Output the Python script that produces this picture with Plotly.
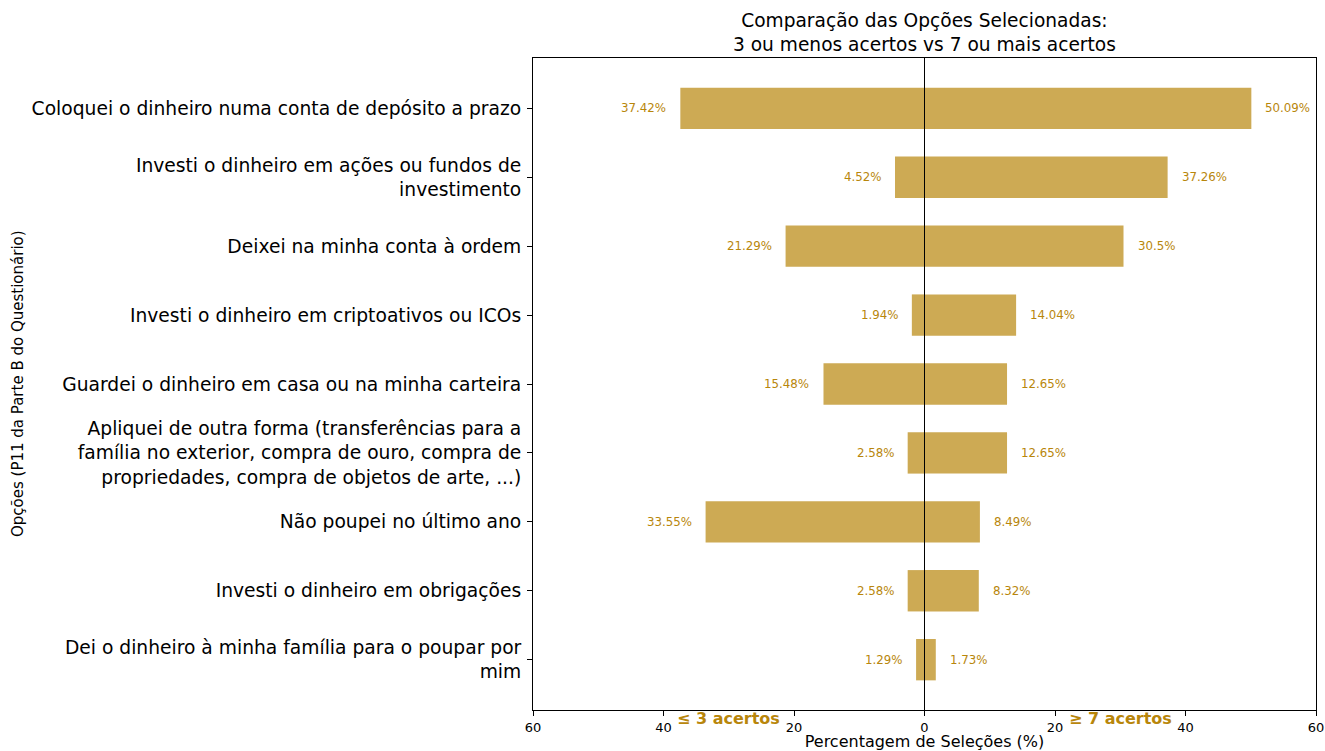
import plotly.graph_objects as go

categories = [
    "Coloquei o dinheiro numa conta de depósito a prazo",
    "Investi o dinheiro em ações ou fundos de<br>investimento",
    "Deixei na minha conta à ordem",
    "Investi o dinheiro em criptoativos ou ICOs",
    "Guardei o dinheiro em casa ou na minha carteira",
    "Apliquei de outra forma (transferências para a<br>família no exterior, compra de ouro, compra de<br>propriedades, compra de objetos de arte, ...)",
    "Não poupei no último ano",
    "Investi o dinheiro em obrigações",
    "Dei o dinheiro à minha família para o poupar por<br>mim",
]
low_scores = [37.42, 4.52, 21.29, 1.94, 15.48, 2.58, 33.55, 2.58, 1.29]
high_scores = [50.09, 37.26, 30.5, 14.04, 12.65, 12.65, 8.49, 8.32, 1.73]
low_labels = ["37.42%", "4.52%", "21.29%", "1.94%", "15.48%", "2.58%", "33.55%", "2.58%", "1.29%"]
high_labels = ["50.09%", "37.26%", "30.5%", "14.04%", "12.65%", "12.65%", "8.49%", "8.32%", "1.73%"]
x_ticks = [-60, -40, -20, 0, 20, 40, 60]
x_tick_text = ["60", "40", "20", "0", "20", "40", "60"]

BAR = "#CDAA54"
TXT = "#B8860B"
FONT = "DejaVu Sans"

ypos = list(range(len(categories)))

fig = go.Figure()
fig.add_trace(go.Bar(
    y=ypos, x=[-v for v in low_scores], orientation="h", width=0.6,
    marker=dict(color=BAR, line=dict(width=0)), showlegend=False, hoverinfo="skip",
))
fig.add_trace(go.Bar(
    y=ypos, x=high_scores, orientation="h", width=0.6,
    marker=dict(color=BAR, line=dict(width=0)), showlegend=False, hoverinfo="skip",
))

annotations = []
for i in ypos:
    annotations.append(dict(x=-low_scores[i], y=i, xref="x", yref="y", text=low_labels[i],
                            showarrow=False, xanchor="right", xshift=-12,
                            font=dict(family=FONT, size=11.8, color=TXT)))
    annotations.append(dict(x=high_scores[i], y=i, xref="x", yref="y", text=high_labels[i],
                            showarrow=False, xanchor="left", xshift=12,
                            font=dict(family=FONT, size=11.8, color=TXT)))
annotations.append(dict(x=-30, y=0, xref="x", yref="paper", text="<b>≤ 3 acertos</b>",
                        showarrow=False, xanchor="center", yanchor="middle", yshift=-8,
                        font=dict(family=FONT, size=16, color=TXT)))
annotations.append(dict(x=30, y=0, xref="x", yref="paper", text="<b>≥ 7 acertos</b>",
                        showarrow=False, xanchor="center", yanchor="middle", yshift=-8,
                        font=dict(family=FONT, size=16, color=TXT)))
# title
annotations.append(dict(x=0.5, y=1, xref="paper", yref="paper",
                        text="Comparação das Opções Selecionadas:<br>3 ou menos acertos vs 7 ou mais acertos",
                        showarrow=False, xanchor="center", yanchor="bottom", yshift=1,
                        font=dict(family=FONT, size=18.6, color="black")))
# y-axis title
annotations.append(dict(x=0, y=0.5, xref="paper", yref="paper",
                        text="Opções (P11 da Parte B do Questionário)", textangle=-90,
                        showarrow=False, xanchor="center", yanchor="middle", xshift=-515,
                        font=dict(family=FONT, size=15, color="black")))

fig.update_layout(
    width=1325, height=751,
    margin=dict(l=533, r=9, t=58, b=41, autoexpand=False),
    plot_bgcolor="white", paper_bgcolor="white",
    barmode="overlay",
    font=dict(family=FONT, color="black"),
    annotations=annotations,
    shapes=[dict(type="line", xref="x", yref="paper", x0=0, x1=0, y0=0, y1=1,
                 line=dict(color="black", width=1))],
)
fig.update_xaxes(
    range=[-60, 60], tickvals=x_ticks, ticktext=x_tick_text, automargin=False,
    ticklabeloverflow="allow",
    showgrid=False, zeroline=False, showline=True, linecolor="black", linewidth=1, mirror=True,
    ticks="outside", ticklen=5, tickcolor="black", tickfont=dict(family=FONT, size=13),
    title=dict(text="Percentagem de Seleções (%)", font=dict(family=FONT, size=16), standoff=0),
)
fig.update_yaxes(
    range=[8.73, -0.73], tickvals=ypos, ticktext=categories, automargin=False,
    showgrid=False, zeroline=False, showline=True, linecolor="black", linewidth=1, mirror=True,
    ticks="outside", ticklen=5, tickcolor="black", tickfont=dict(family=FONT, size=18.7),
    ticklabelstandoff=2,
)

fig.write_html(
    "out.html",
    config={"displayModeBar": False},
    post_script="document.body.style.margin='0';document.body.style.overflow='hidden';",
)
